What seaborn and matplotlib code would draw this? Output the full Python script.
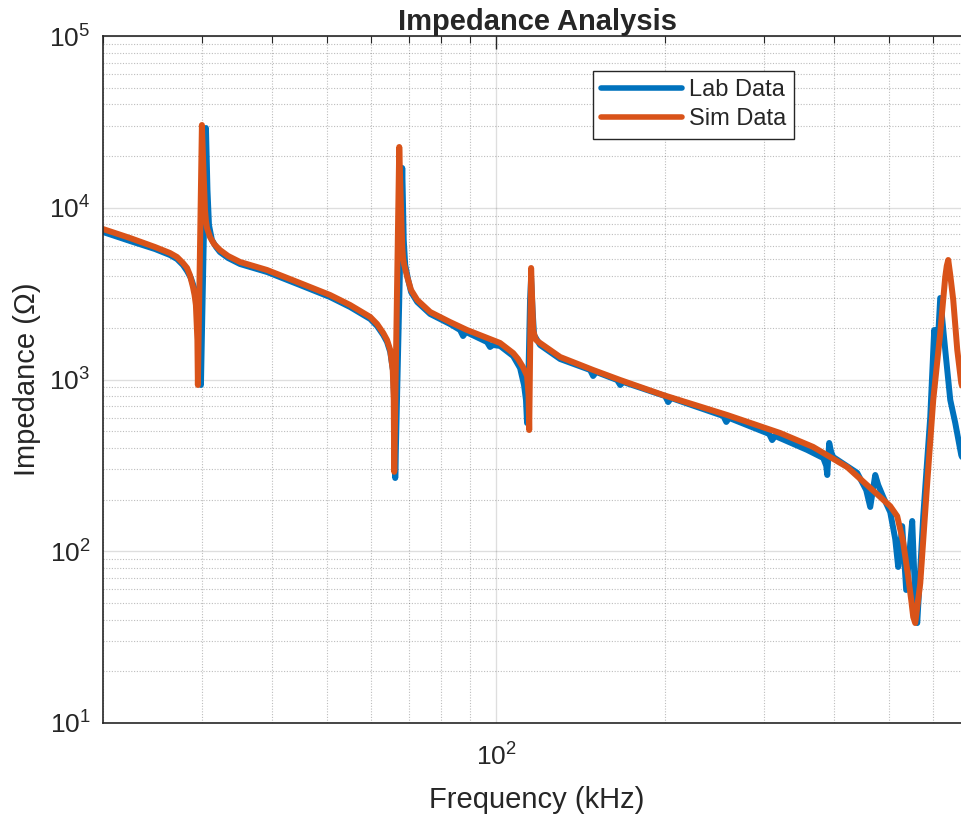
import matplotlib
matplotlib.use("Agg")
import matplotlib.pyplot as plt
import matplotlib.ticker as mticker
import numpy as np
import pandas as pd
import seaborn as sns

# Impedance (frequency in kHz, impedance in Ohm)
lab_freq = [20.0, 22.34, 24.75, 26.31, 27.08, 27.75, 28.22, 28.67, 29.14, 29.50,
            29.75, 29.87, 30.49, 30.68, 30.87, 31.07, 31.25, 31.78, 32.29, 33.39,
            35.06, 39.16, 44.83, 50.69, 55.03, 59.76, 61.46, 63.03, 64.02, 64.86,
            65.66, 66.07, 66.20, 68.13, 68.55, 68.97, 69.82, 70.64, 72.45, 76.39,
            82.86, 86.33, 87.40, 88.48, 96.41, 97.61, 98.81, 101.7, 107.3, 110.4,
            112.2, 113.1, 113.6, 114.1, 115.0, 115.5, 116.2, 116.9, 119.8, 130.1,
            147.1, 148.9, 150.8, 164.3, 166.4, 168.4, 200.0, 202.5, 205.0, 253.8,
            256.9, 260.0, 306.2, 310.0, 313.8, 357.8, 382.2, 386.9, 388.5, 391.6,
            394.8, 398.0, 439.2, 455.7, 463.3, 472.9, 478.7, 488.6, 502.8, 513.2,
            519.5, 528.1, 536.8, 550.2, 553.6, 558.1, 561.6, 568.6, 575.6, 592.4,
            602.1, 609.6, 617.1, 629.9, 643.0, 656.3, 672.6, 700.8]
lab_z = [7225, 6404, 5750, 5308, 5031, 4642, 4282, 3899, 3319, 2539,
         1698, 929, 29130, 12690, 7936, 7128, 6490, 5906, 5525, 5098,
         4704, 4226, 3548, 3021, 2643, 2251, 2049, 1816, 1653, 1446,
         1106, 581, 267, 17040, 6490, 4642, 3795, 3232, 2826, 2407,
         2104, 1942, 1791, 1891, 1653, 1546, 1589, 1568, 1370, 1166,
         929, 760, 558, 869, 2903, 3899, 2539, 1816, 1589, 1316,
         1136, 1048, 1106, 993, 929, 967, 801, 739, 780, 613,
         566, 597, 482, 444, 469, 389, 349, 314, 278, 427,
         378, 354, 286, 227, 181, 278, 243, 207, 169, 118,
         81, 140, 59.5, 150, 89, 45.5, 38.2, 78, 160, 605,
         1942, 1426, 2982, 1485, 760, 558, 363, 260]

sim_freq = [20.0, 22.34, 24.75, 26.31, 27.08, 27.75, 28.22, 28.55, 28.91, 29.10,
            29.26, 29.44, 29.50, 29.99, 30.18, 30.37, 30.49, 30.62, 31.00, 31.52,
            32.29, 33.39, 35.06, 39.16, 44.83, 50.69, 55.03, 59.76, 61.46, 63.03,
            64.02, 64.86, 65.53, 65.80, 65.93, 67.30, 67.71, 68.13, 68.36, 68.69,
            69.54, 70.64, 72.45, 76.39, 82.86, 88.84, 101.7, 107.3, 109.5, 111.7,
            113.6, 114.3, 114.6, 115.5, 116.0, 116.5, 117.2, 117.9, 119.8, 130.1,
            148.9, 166.4, 198.4, 257.9, 320.3, 366.7, 421.6, 482.6, 502.8, 517.4,
            530.2, 541.2, 548.0, 552.5, 557.0, 568.6, 585.1, 599.7, 617.1, 629.9,
            633.8, 637.7, 643.0, 650.9, 661.7, 672.6, 700.8]
sim_z = [7518, 6666, 5906, 5452, 5167, 4769, 4459, 4059, 3454, 3105,
         2715, 1698, 929, 30320, 16590, 9703, 8372, 7623, 6756, 6151,
         5675, 5237, 4833, 4341, 3645, 3105, 2715, 2312, 2104, 1865,
         1698, 1485, 1136, 760, 290, 22580, 11100, 5906, 5098, 4642,
         3951, 3319, 2903, 2472, 2161, 1942, 1632, 1426, 1316, 1182,
         1048, 812, 508, 4459, 2903, 1942, 1791, 1698, 1632, 1352,
         1136, 993, 812, 621, 488, 405, 309, 207, 183, 160,
         113, 71, 52.0, 41.4, 38.2, 65, 250, 760, 1865, 3951,
         4580, 4964, 4059, 2903, 1485, 954, 581]

series_names = ["Lab Data", "Sim Data"]
series_colors = ["#0072BD", "#D95319"]

df = pd.concat([
    pd.DataFrame({"Frequency": lab_freq, "Impedance": lab_z, "Series": series_names[0]}),
    pd.DataFrame({"Frequency": sim_freq, "Impedance": sim_z, "Series": series_names[1]}),
], ignore_index=True)

sns.set_style("white")
plt.rcParams["font.family"] = ["Liberation Sans", "DejaVu Sans"]
plt.rcParams["mathtext.fontset"] = "custom"
plt.rcParams["mathtext.rm"] = "Liberation Sans"
plt.rcParams["mathtext.it"] = "Liberation Sans:italic"
plt.rcParams["mathtext.bf"] = "Liberation Sans:bold"

dark = "#262626"

fig = plt.figure(figsize=(9.61, 8.17), dpi=100)
# axes run a little past the right edge, like the cropped original
ax = fig.add_axes([103 / 961, 94 / 817, 868 / 961, 687 / 817])

sns.lineplot(data=df, x="Frequency", y="Impedance", hue="Series",
             hue_order=series_names, palette=series_colors,
             estimator=None, sort=False, linewidth=4.3,
             solid_joinstyle="round", solid_capstyle="round", ax=ax)

ax.set_xscale("log")
ax.set_yscale("log")
ax.set_xlim(20, 700)
ax.set_ylim(10, 1e5)

ax.yaxis.set_major_locator(mticker.LogLocator(base=10, numticks=10))
ax.yaxis.set_minor_locator(mticker.LogLocator(base=10, subs=np.arange(2, 10), numticks=20))
ax.xaxis.set_minor_locator(mticker.LogLocator(base=10, subs=np.arange(2, 10), numticks=20))
ax.xaxis.set_minor_formatter(mticker.NullFormatter())
ax.yaxis.set_minor_formatter(mticker.NullFormatter())

ax.set_axisbelow(True)
ax.grid(True, which="major", color=dark, alpha=0.15, linewidth=1.0, linestyle="-")
ax.grid(True, which="minor", color=dark, alpha=0.3, linewidth=0.8, linestyle=(0, (1, 1.5)))

ax.tick_params(which="both", direction="in", top=True, right=False, colors=dark)
ax.tick_params(which="major", length=9, width=1.0, labelsize=19)
ax.tick_params(axis="x", which="major", pad=15)
ax.tick_params(axis="y", which="major", pad=9)
ax.tick_params(which="minor", length=5, width=0.8)
for s in ax.spines.values():
    s.set_color(dark)
    s.set_linewidth(1.2)

ax.set_xlabel("Frequency (kHz)", fontsize=21, color=dark, labelpad=11)
ax.set_ylabel("Impedance (Ω)", fontsize=21, color=dark, labelpad=6)
ax.set_title("Impedance Analysis", fontsize=21, fontweight="bold", pad=4)

handles, labels = ax.get_legend_handles_labels()
ax.get_legend().remove()
leg = ax.legend(handles, labels, loc="upper left", bbox_to_anchor=(0.5645, 0.949),
                borderaxespad=0, fontsize=17, frameon=True, fancybox=False,
                edgecolor=dark, framealpha=1, handlelength=3.4, handletextpad=0.3,
                labelspacing=0.3, borderpad=0.35)
leg.get_frame().set_linewidth(1.0)
for line in leg.get_lines():
    line.set_linewidth(4)

fig.savefig("out.png", dpi=100)
